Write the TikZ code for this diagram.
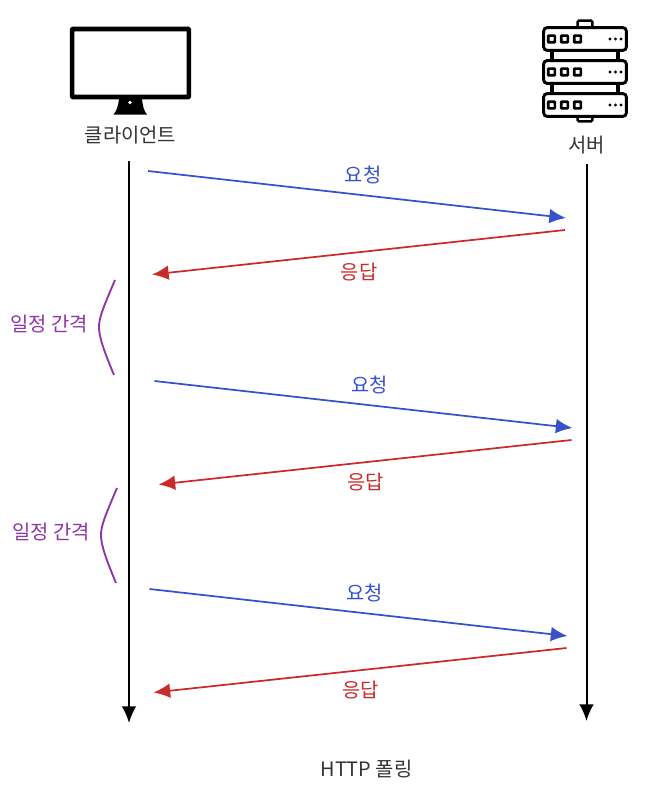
\documentclass[tikz,border=0pt]{standalone}
\usepackage{fontspec}
\setmainfont{Noto Sans CJK KR}
\usetikzlibrary{arrows.meta,calc,positioning}
\definecolor{reqblue}{HTML}{3651C9}
\definecolor{resred}{HTML}{C92A2A}
\definecolor{gappurple}{HTML}{8E35A8}
\tikzstyle{label} = [inner sep=0pt, font=\fontsize{14.9}{17}\selectfont, text=black!80]
\tikzstyle{life} = [draw, line width=1.5pt, -{Latex[length=12.5pt,width=11pt]}]
\tikzstyle{req} = [draw=reqblue, line width=1.3pt, -{Latex[length=12.5pt,width=11pt]}]
\tikzstyle{res} = [draw=resred, line width=1.3pt, -{Latex[length=12.5pt,width=11pt]}]
\tikzstyle{gap} = [draw=gappurple, line width=1.4pt]
\tikzstyle{rack} = [draw, rounded corners=2.5pt, line width=2.2pt, fill=white, minimum width=62pt, minimum height=17pt, inner sep=0pt]
\tikzstyle{led} = [draw, line width=2pt, rounded corners=0.5pt, minimum width=5pt, minimum height=5pt, inner sep=0pt]
\tikzstyle{dot} = [fill, circle, minimum size=2.4pt, inner sep=0pt]
\tikzstyle{tab} = [draw, line width=1.8pt, rounded corners=1pt, minimum width=11pt, minimum height=8pt, inner sep=0pt]
\begin{document}
\begin{tikzpicture}[x=0.75pt,y=-0.75pt]
	\useasboundingbox (0,0) rectangle (648,792);

	% client
	\node [draw, line width=3.4pt, rounded corners=0.5pt, minimum width=87.5pt, minimum height=51pt, inner sep=0pt] (screen) at (130.5,63) {};
	\fill (119,98) -- (142,98) .. controls (142.5,106) and (144,111) .. (147,114.5) -- (113.5,114.5) .. controls (116.5,111) and (118.5,106) .. (119,98) -- cycle;
	\fill [white] (130,102.5) circle (1.8);
	\node [label] (client) at (130.5,135) {클라이언트};

	% server
	\node [tab] (tabtop) at (585,26) {};
	\node [tab] (tabbot) at (585,116) {};
	\draw [line width=2.4pt] (552,45) -- (552,100) (618,45) -- (618,100);
	\foreach \name/\y in {a/39,b/72,c/105} {
		\node [rack] (rack\name) at (585,\y) {};
		\foreach \i/\x in {1/552,2/565,3/578}
			\node [led] (led\name\i) at (\x-0.5,\y) {};
		\foreach \i/\x in {1/610,2/615.5,3/621}
			\node [dot] (dot\name\i) at (\x,\y) {};
	}
	\node [label] (server) at (586.5,145) {서버};

	% lifelines
	\coordinate (clienttop) at (129,161);
	\coordinate (clientend) at (129,723);
	\coordinate (servertop) at (586.5,164);
	\coordinate (serverend) at (586.5,721);
	\path [life] (clienttop) -- (clientend);
	\path [life] (servertop) -- (serverend);

	% exchanges
	\foreach \n/\dx/\dy in {1/0/0,2/6.5/210,3/1.5/418} {
		\coordinate (reqs\n) at (148+\dx,171+\dy);
		\coordinate (reqe\n) at (566+\dx,218+\dy);
		\coordinate (ress\n) at (565+\dx,230+\dy);
		\coordinate (rese\n) at (152+\dx,274.5+\dy);
		\path [req] (reqs\n) -- (reqe\n);
		\path [res] (ress\n) -- (rese\n);
		\node [label, text=reqblue] (reqlabel\n) at (363+\dx,175+\dy) {요청};
		\node [label, text=resred] (reslabel\n) at (359+\dx,272+\dy) {응답};
	}

	% intervals
	\foreach \n/\dx/\dy in {1/0/0,2/2/208} {
		\coordinate (gaps\n) at (115+\dx,280+\dy);
		\coordinate (gape\n) at (114+\dx,375+\dy);
		\path [gap] (gaps\n) .. controls ($(gaps\n)+(-12,28)$) and ($(gaps\n)+(-16,38)$) .. ($(gaps\n)+(-16,47)$) .. controls ($(gaps\n)+(-16,57)$) and ($(gape\n)+(-10,-24)$) .. (gape\n);
		\node [label, text=gappurple] (gaplabel\n) at (49+\dx,324+\dy) {일정 간격};
	}

	\node [label] (title) at (366.5,769) {HTTP 폴링};
\end{tikzpicture}
\end{document}
